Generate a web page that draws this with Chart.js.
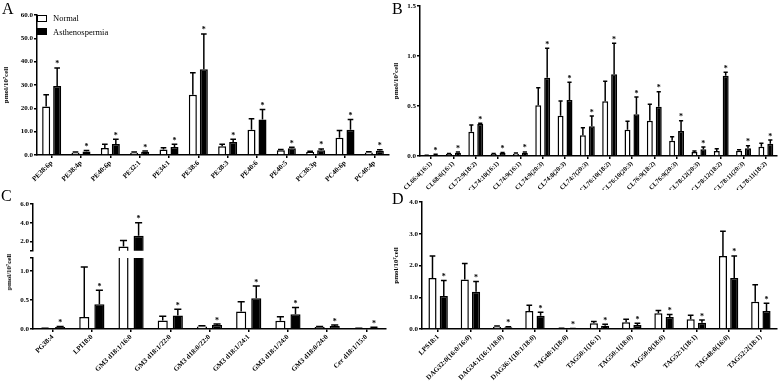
<!DOCTYPE html>
<html><head><meta charset="utf-8">
<script src="https://cdn.jsdelivr.net/npm/chart.js@4.4.1/dist/chart.umd.min.js"></script>
<style>
body{margin:0;background:#fff;width:778px;height:381px;overflow:hidden;position:relative;font-family:'Liberation Serif',serif;color:#000}
canvas{position:absolute}
.lab{position:absolute;font-size:16px;line-height:1}
.leg{position:absolute;font-size:8.5px;line-height:1;white-space:nowrap}
.box{position:absolute;width:8px;height:5px;border:1.5px solid #000}
.yt{position:absolute;font-size:7px;font-weight:bold;white-space:nowrap;transform:translate(-50%,-50%) rotate(-90deg)}
</style></head><body>
<canvas id="cA" width="390" height="190" style="left:0;top:0"></canvas>
<canvas id="cB" width="388" height="190" style="left:390px;top:0"></canvas>
<canvas id="cCu" width="390" height="66" style="left:0;top:190px"></canvas>
<canvas id="cCl" width="390" height="129" style="left:0;top:252px"></canvas>
<canvas id="cD" width="388" height="191" style="left:390px;top:190px"></canvas>
<div class="lab" style="left:2px;top:1px">A</div>
<div class="lab" style="left:392px;top:1px">B</div>
<div class="lab" style="left:1px;top:188px">C</div>
<div class="lab" style="left:392px;top:191px">D</div>
<div class="box" style="left:37px;top:15px;background:#fff"></div>
<div class="leg" style="left:53px;top:14px">Normal</div>
<div class="box" style="left:37px;top:28px;background:#000"></div>
<div class="leg" style="left:53px;top:28px">Asthenospermia</div>
<div class="yt" style="left:9px;top:272px">pmol/10⁷cell</div>
<script>
// ---- Panel A ----
const catsA = ['PE38:6p','PE38:4p','PE40:6p','PE32:1','PE34:1','PE38:6','PE38:3','PE40:6','PE40:5','PC38:3p','PC40:6p','PC40:4p'];
const normalA = [20.8, 1.0, 3.0, 1.0, 2.4, 25.8, 3.8, 10.8, 2.0, 1.3, 7.4, 1.1];
const normalErrA = [5.0, 0.3, 1.6, 0.3, 0.7, 9.4, 0.8, 4.7, 0.4, 0.3, 3.1, 0.3];
const asthA = [29.6, 1.5, 4.7, 1.4, 3.4, 36.8, 5.6, 15.2, 2.9, 2.0, 10.8, 1.8];
const asthErrA = [7.7, 0.4, 2.0, 0.3, 1.2, 15.1, 1.1, 4.3, 0.4, 0.6, 4.4, 0.5];
const ticksA = [0, 10, 20, 30, 40, 50, 60];
// ---- Panel B ----
const catsB = ['CL66:4(16:1)','CL68:6(16:1)','CL72:9(18:2)','CL74:10(16:1)','CL74:9(16:1)','CL74:9(20:3)','CL74:8(20:3)','CL74:7(20:3)','CL76:10(18:2)','CL76:10(20:3)','CL76:9(18:2)','CL76:9(20:3)','CL78:12(20:3)','CL78:12(18:2)','CL78:11(20:3)','CL78:11(18:2)'];
const normalB = [0.005, 0.02, 0.243, 0.02, 0.023, 0.507, 0.403, 0.207, 0.547, 0.263, 0.353, 0.153, 0.04, 0.05, 0.053, 0.093];
const normalErrB = [0.003, 0.005, 0.067, 0.005, 0.007, 0.176, 0.147, 0.076, 0.2, 0.084, 0.164, 0.04, 0.01, 0.023, 0.01, 0.034];
const asthB = [0.013, 0.033, 0.32, 0.03, 0.033, 0.783, 0.56, 0.297, 0.817, 0.417, 0.493, 0.25, 0.067, 0.803, 0.077, 0.123];
const asthErrB = [0.005, 0.007, 0.007, 0.006, 0.008, 0.294, 0.177, 0.103, 0.31, 0.173, 0.15, 0.103, 0.023, 0.034, 0.026, 0.037];
const ticksB = [0, 0.5, 1.0, 1.5];
// ---- Panel C ----
const catsC = ['PG38:4','LPI18:0','GM3 d18:1/16:0','GM3 d18:1/22:0','GM3 d18:0/22:0','GM3 d18:1/24:1','GM3 d18:1/24:0','GM3 d18:0/24:0','Cer d18:1/15:0'];
const normalC = [0.011, 0.205, 1.45, 0.148, 0.045, 0.30, 0.142, 0.034, 0.011];
const normalErrC = [0.003, 0.865, 0.65, 0.072, 0.012, 0.17, 0.068, 0.011, 0.002];
const asthC = [0.034, 0.426, 2.6, 0.233, 0.068, 0.528, 0.256, 0.05, 0.023];
const asthErrC = [0.011, 0.244, 1.4, 0.107, 0.017, 0.212, 0.114, 0.018, 0.007];
const ticksCupper = [1.0, 2.0, 4.0, 6.0];
const ticksClower = [0, 0.5, 1.0, 1.224];
// ---- Panel D ----
const catsD = ['LPS18:1','DAG32:0(16:0/16:0)','DAG34:1(16:1/18:0)','DAG36:1(18:1/18:0)','TAG48:1(18:0)','TAG50:1(16:1)','TAG50:1(18:0)','TAG50:0(18:0)','TAG52:1(18:1)','TAG48:0(16:0)','TAG52:2(18:1)'];
const normalD = [1.61, 1.56, 0.073, 0.57, 0.02, 0.18, 0.21, 0.50, 0.31, 2.30, 0.86];
const normalErrD = [0.69, 0.50, 0.021, 0.18, 0.005, 0.06, 0.10, 0.08, 0.12, 0.78, 0.53];
const asthD = [1.04, 1.17, 0.052, 0.42, 0.01, 0.10, 0.125, 0.375, 0.20, 1.61, 0.57];
const asthErrD = [0.49, 0.33, 0.021, 0.11, 0.003, 0.05, 0.055, 0.085, 0.08, 0.69, 0.24];
const ticksD = [0, 1, 2, 3, 4];

Chart.defaults.color = '#000';
Chart.defaults.font.family = "'Liberation Serif', serif";

const errPlugin = {
  id:'errbars',
  afterDatasetsDraw(chart){
    const ctx = chart.ctx, ys = chart.scales.y, a = chart.chartArea;
    ctx.save();
    ctx.beginPath(); ctx.rect(a.left, a.top - 0.5, a.right - a.left, a.bottom - a.top + 0.5); ctx.clip();
    ctx.strokeStyle = '#000'; ctx.fillStyle = '#000'; ctx.lineWidth = 1.5;
    chart.data.datasets.forEach((ds, di) => {
      const meta = chart.getDatasetMeta(di);
      meta.data.forEach((bar, i) => {
        const v = ds.data[i], e = ds.errors[i];
        if (v < ys.min) return;
        const x = bar.x, y0 = ys.getPixelForValue(v), y1 = ys.getPixelForValue(v + e);
        const cw = bar.width * 0.35;
        ctx.beginPath(); ctx.moveTo(x, y0); ctx.lineTo(x, y1);
        ctx.moveTo(x - cw, y1); ctx.lineTo(x + cw, y1); ctx.stroke();
        if (ds.star) {
          ctx.font = "bold 8px 'Liberation Serif'"; ctx.textAlign = 'center'; ctx.textBaseline = 'alphabetic';
          ctx.fillText('*', x, y1 - 1.5);
        }
      });
    });
    ctx.restore();
  }
};

function makeChart(id, cats, n, ne, a, ae, cfg){
  const tickFont = {family:"'Liberation Serif', serif", size:cfg.fs || 7, weight:'bold'};
  const yFont = {family:"'Liberation Serif', serif", size:7, weight:'bold'};
  return new Chart(document.getElementById(id), {
    type:'bar',
    data:{labels:cats, datasets:[
      {label:'Normal', data:n, errors:ne, star:false, backgroundColor:'#fff', borderColor:'#000', borderWidth:1.5, barPercentage:cfg.bp, categoryPercentage:cfg.cp},
      {label:'Asthenospermia', data:a, errors:ae, star:true, backgroundColor:'#000', borderColor:'#000', borderWidth:1.5, barPercentage:cfg.bp, categoryPercentage:cfg.cp}
    ]},
    options:{
      responsive:false, animation:false, devicePixelRatio:1,
      layout:{padding:cfg.pad},
      plugins:{legend:{display:false}, tooltip:{enabled:false}},
      scales:{
        x:{display:cfg.showX !== false, offset:true,
           grid:{display:true, drawOnChartArea:false, offset:false, color:'#000', tickLength:3, lineWidth:1.5},
           border:{color:'#000', width:1.5},
           ticks:{autoSkip:false, minRotation:45, maxRotation:45, padding:1, color:'#000', font:tickFont},
           afterFit(s){ s.height = cfg.xh; }},
        y:{min:cfg.min, max:cfg.max,
           afterBuildTicks(s){ s.ticks = cfg.ticks.map(v => ({value:v})); },
           grid:{drawOnChartArea:false, color:'#000', tickLength:3, lineWidth:1.5},
           border:{color:'#000', width:1.5},
           ticks:{autoSkip:false, source:'data', autoSkipPadding:0, color:'#000', font:yFont, padding:1,
                  callback:(v) => (cfg.blank !== undefined && Math.abs(v - cfg.blank) < 1e-9) ? '' : Number(v).toFixed(1)},
           title:{display:!!cfg.title, text:'pmol/10⁷cell', color:'#000', font:{family:"'Liberation Serif', serif", size:7, weight:'bold'}, padding:{top:2, bottom:0}},
           afterFit(s){ s.width = cfg.yw; }}
      }
    },
    plugins:[errPlugin]
  });
}

makeChart('cA', catsA, normalA, normalErrA, asthA, asthErrA,
  {pad:{left:0, top:15, right:1, bottom:0}, yw:37, xh:35, min:0, max:60, ticks:ticksA, title:true, bp:0.73, cp:0.75});
makeChart('cB', catsB, normalB, normalErrB, asthB, asthErrB,
  {pad:{left:0, top:6, right:1, bottom:0}, yw:30, xh:34, min:0, max:1.5, ticks:ticksB, title:true, bp:0.67, cp:0.8, fs:6.5});
makeChart('cCu', catsC, normalC, normalErrC, asthC, asthErrC,
  {pad:{left:0, top:14, right:4, bottom:1}, yw:33, xh:0, showX:false, min:1.0, max:6.0, ticks:ticksCupper, blank:1.0, title:false, bp:0.67, cp:0.77});
makeChart('cCl', catsC, normalC, normalErrC, asthC, asthErrC,
  {pad:{left:0, top:6, right:4, bottom:0}, yw:33, xh:52, min:0, max:1.224, ticks:ticksClower, blank:1.224, title:false, bp:0.67, cp:0.77});
makeChart('cD', catsD, normalD, normalErrD, asthD, asthErrD,
  {pad:{left:0, top:12, right:1, bottom:0}, yw:32, xh:52, min:0, max:4, ticks:ticksD, title:true, bp:0.72, cp:0.7});
</script>
</body></html>
